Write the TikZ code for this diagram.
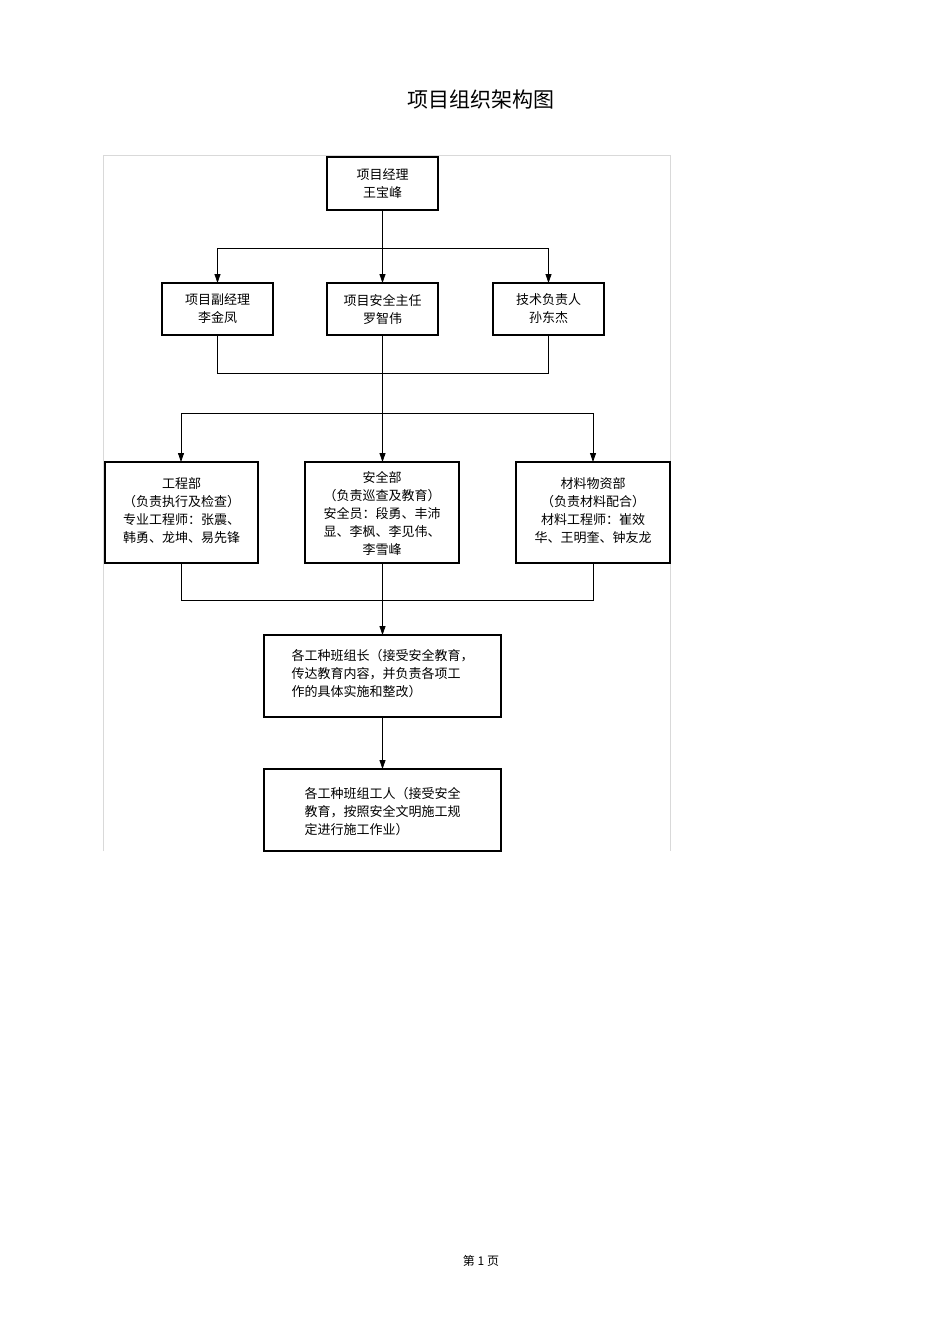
\documentclass[tikz,border=0pt]{standalone}
\usepackage{fontspec}
\setmainfont{Noto Sans CJK SC}
\usetikzlibrary{arrows.meta}
\begin{document}
\begin{tikzpicture}[x=1pt,y=-1pt,
  bx/.style={draw,line width=1.2pt,inner sep=0pt},
  txt/.style={font=\fontsize{13}{18}\selectfont,align=center},
  ln/.style={line width=0.8pt},
  ar/.style={ln,-{Triangle[length=9pt,width=6pt]}}]
\useasboundingbox (0,0) rectangle (950,1344);
\draw[black!15,line width=0.5pt] (103,851)--(103,155)--(670,155)--(670,851);
\node[font=\fontsize{21}{24}\selectfont] (title) at (481,100) {项目组织架构图};
\node[font=\fontsize{12}{14}\selectfont] (foot) at (481,1261) {第 1 页};
% boxes
\draw[bx] (327,157) rectangle (438,210); \node[txt] (pm) at (382.5,183.5) {项目经理\\王宝峰};
\coordinate (pmb) at (382.5,210);
\draw[bx] (162,283) rectangle (273,335); \node[txt] (b1) at (217.5,309) {项目副经理\\李金凤};
\draw[bx] (327,283) rectangle (438,335); \node[txt] (b2) at (382.5,309) {项目安全主任\\罗智伟};
\draw[bx] (493,283) rectangle (604,335); \node[txt] (b3) at (548.5,309) {技术负责人\\孙东杰};
\coordinate (b1t) at (217.5,283);\coordinate (b2t) at (382.5,283);\coordinate (b3t) at (548.5,283);
\coordinate (b1b) at (217.5,335);\coordinate (b2b) at (382.5,335);\coordinate (b3b) at (548.5,335);
\draw[ln] (pmb)--(382.5,248) (217.5,248)--(548.5,248);
\draw[ar] (217.5,248)--(b1t); \draw[ar] (382.5,248)--(b2t); \draw[ar] (548.5,248)--(b3t);
\draw[ln] (b1b)--(217.5,373)--(548.5,373)--(b3b);
\draw[ln] (b2b)--(382.5,413) (181,413)--(593,413);
\draw[bx] (105,462) rectangle (258,563); \node[txt] (c1) at (181.5,511) {工程部\\（负责执行及检查）\\专业工程师：张震、\\韩勇、龙坤、易先锋};
\draw[bx] (305,462) rectangle (459,563); \node[txt] (c2) at (382,513) {安全部\\（负责巡查及教育）\\安全员：段勇、丰沛\\显、李枫、李见伟、\\李雪峰};
\draw[bx] (516,462) rectangle (670,563); \node[txt] (c3) at (593,511) {材料物资部\\（负责材料配合）\\材料工程师：崔效\\华、王明奎、钟友龙};
\draw[ar] (181,413)--(181,462); \draw[ar] (382.5,413)--(382.5,462); \draw[ar] (593,413)--(593,462);
\draw[ln] (181,563)--(181,600)--(593,600)--(593,563) (382.5,563)--(382.5,600);
\draw[bx] (264,635) rectangle (501,717); \node[txt,align=left] (d) at (382.5,674) {各工种班组长（接受安全教育，\\传达教育内容，并负责各项工\\作的具体实施和整改）};
\draw[ar] (382.5,600)--(382.5,635);
\draw[bx] (264,769) rectangle (501,851); \node[txt,align=left] (e) at (382.5,812) {各工种班组工人（接受安全\\教育，按照安全文明施工规\\定进行施工作业）};
\draw[ar] (382.5,717)--(382.5,769);
\end{tikzpicture}
\end{document}
